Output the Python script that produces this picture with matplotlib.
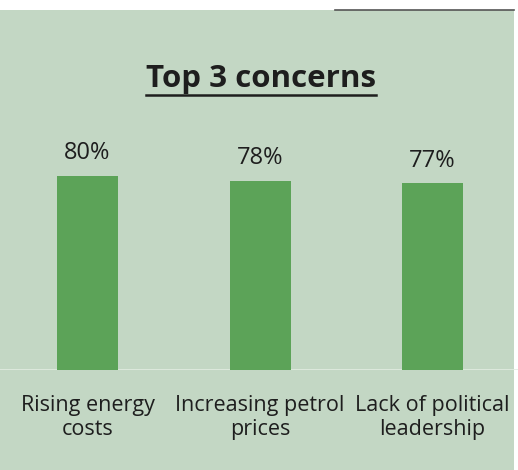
import matplotlib
matplotlib.use('Agg')
import matplotlib.pyplot as plt
from matplotlib.patches import Rectangle
from matplotlib.lines import Line2D

plt.rcParams['font.family'] = ['Open Sans', 'DejaVu Sans']

# data
concerns = ['Rising energy\ncosts', 'Increasing petrol\nprices', 'Lack of political\nleadership']
shares = [80, 78, 77]  # percent of respondents

bg_color = '#c3d7c4'
bar_color = '#5ca358'
text_color = '#1e1e1e'

W, H = 518, 470
fig = plt.figure(figsize=(W / 100, H / 100), dpi=100)
fig.patch.set_facecolor('white')

# green panel with a dark rule along part of the top edge
fig.patches.append(Rectangle((0, 0), 514 / W, (H - 10) / H, transform=fig.transFigure,
                             facecolor=bg_color, edgecolor='none', zorder=-5))
fig.lines.append(Line2D([335 / W, 514 / W], [(H - 10) / H] * 2, transform=fig.transFigure,
                        color='#555555', lw=1.2, zorder=1))

# axes placed so that 0% sits at the baseline and 100% near the top
base_px = 100
top_px = H - 127.5
ax = fig.add_axes([0, base_px / H, 1, (top_px - base_px) / H])
ax.set_zorder(2)
ax.set_facecolor('none')
ax.set_xlim(-87.5 / 172.5, (W - 87.5) / 172.5)
ax.set_ylim(0, 100)

x = range(len(concerns))
ax.bar(x, shares, width=61 / 172.5, color=bar_color, zorder=3)
ax.axhline(0, color='#e2ece1', lw=1.2, zorder=2)

for xi, v in zip(x, shares):
    ax.annotate(f'{v}%', (xi, v), xytext=(0, 12), textcoords='offset points',
                ha='center', va='baseline', fontsize=17, color=text_color,
                annotation_clip=False)

for xi, lab in zip(x, concerns):
    ax.annotate(lab, (xi, 0), xytext=(0, -18), textcoords='offset points',
                ha='center', va='top', fontsize=15.5, color=text_color,
                linespacing=1.2, multialignment='center', annotation_clip=False)

for s in ax.spines.values():
    s.set_visible(False)
ax.set_xticks([])
ax.set_yticks([])

# underlined bold title
title = fig.text(261 / W, (H - 87) / H, 'Top 3 concerns', ha='center', va='baseline',
                 fontsize=22.5, fontweight='bold', color=text_color)
fig.canvas.draw()
bb = title.get_window_extent().transformed(fig.transFigure.inverted())
fig.lines.append(Line2D([bb.x0, bb.x1], [(H - 95) / H] * 2, transform=fig.transFigure,
                        color=text_color, lw=1.8))

plt.savefig('out.png', dpi=100, facecolor=fig.get_facecolor())
